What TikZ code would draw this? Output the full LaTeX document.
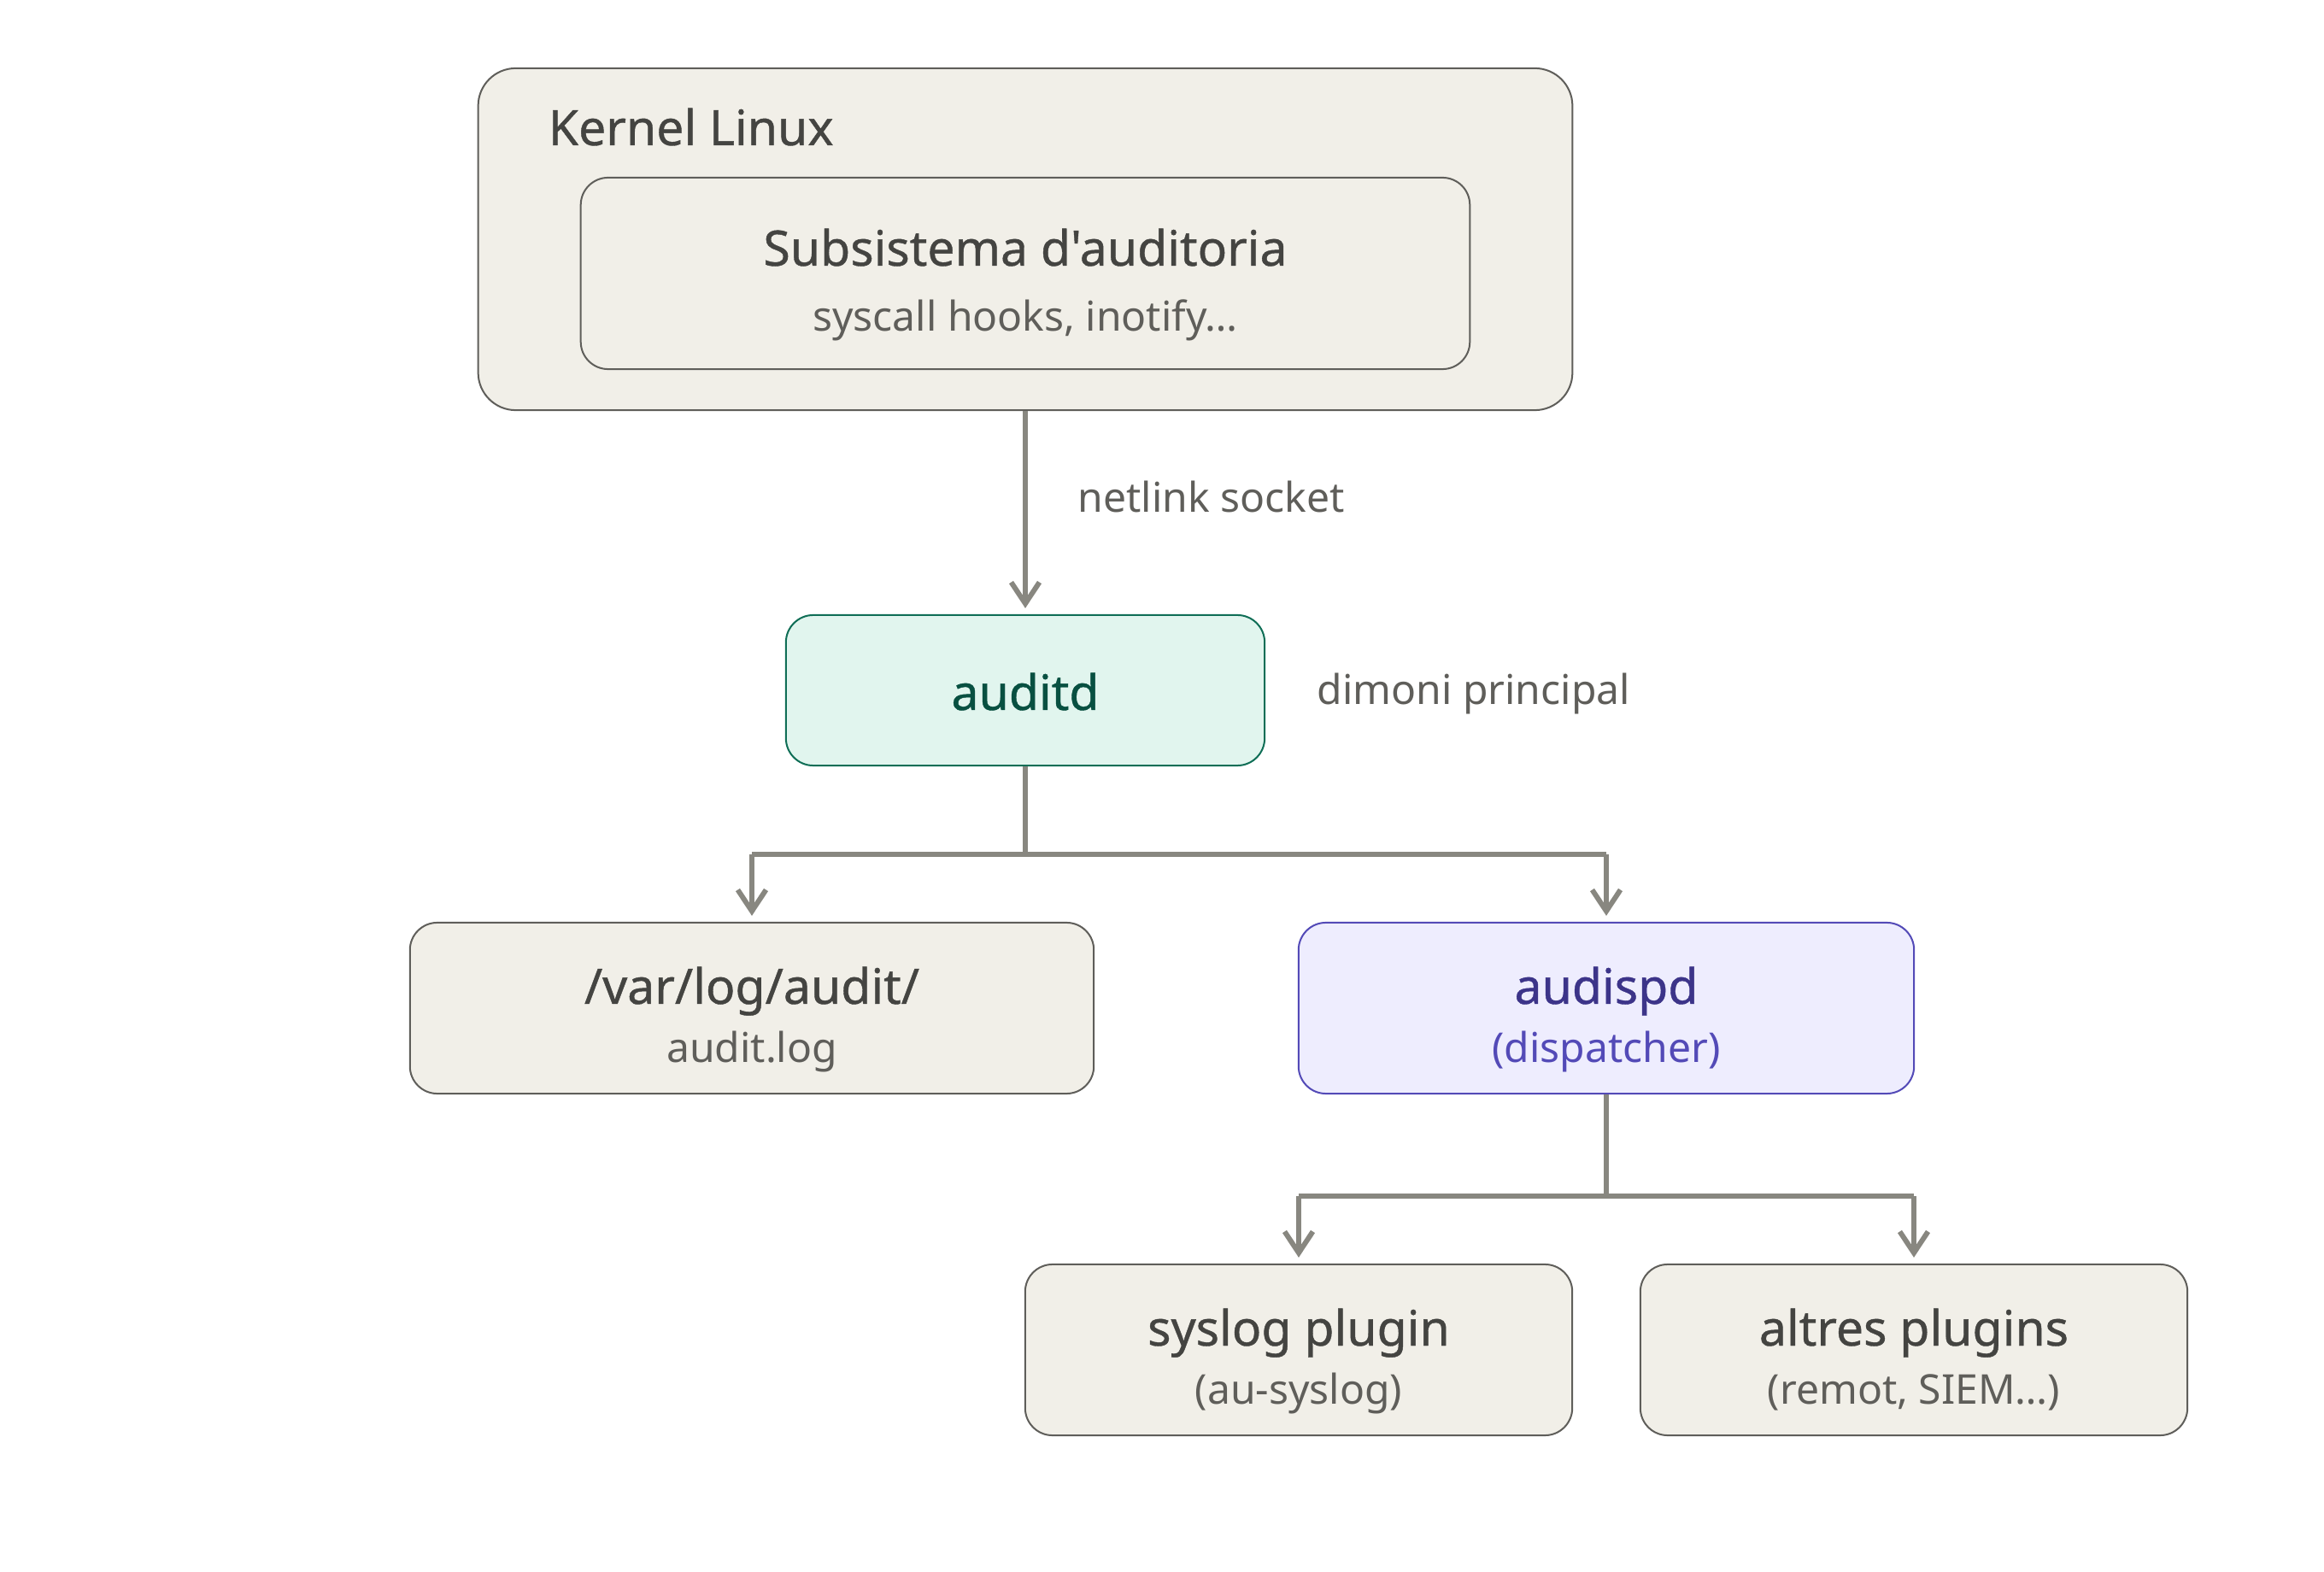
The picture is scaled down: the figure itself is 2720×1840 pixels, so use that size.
\documentclass[tikz,border=0pt]{standalone}
\usepackage{fontspec}
\setmainfont{Noto Sans}
\newfontfamily\medfont[FakeBold=0.7]{Noto Sans}
\usetikzlibrary{arrows.meta}
\definecolor{boxfill}{HTML}{F1EFE8}
\definecolor{boxdraw}{HTML}{5F5E5A}
\definecolor{txtdark}{HTML}{444441}
\definecolor{txtsub}{HTML}{5F5E5A}
\definecolor{tealfill}{HTML}{E1F5EE}
\definecolor{tealdraw}{HTML}{0F6E56}
\definecolor{tealtxt}{HTML}{085041}
\definecolor{purfill}{HTML}{EEEDFE}
\definecolor{purdraw}{HTML}{534AB7}
\definecolor{purtxt}{HTML}{3C3489}
\definecolor{conncol}{HTML}{888780}
\tikzset{
  box/.style={draw=boxdraw, fill=boxfill, line width=0.57pt, rounded corners=0.32cm, inner sep=0pt},
  tealbox/.style={box, draw=tealdraw, fill=tealfill},
  purbox/.style={box, draw=purdraw, fill=purfill},
  ttl/.style={anchor=base, inner sep=0pt, text=txtdark, font=\medfont\fontsize{16.25pt}{19pt}\selectfont},
  sub/.style={anchor=base, inner sep=0pt, text=txtsub, font=\fontsize{13.66pt}{16pt}\selectfont},
  lbl/.style={anchor=base west, inner sep=0pt, text=txtsub, font=\fontsize{13.66pt}{16pt}\selectfont},
  conn/.style={draw=conncol, line width=1.7pt},
  arr/.style={conn, -{Straight Barb[length=7.1pt,width=9.4pt,line width=1.7pt]}, shorten >=2pt},
}
\begin{document}
\begin{tikzpicture}[x=0.01cm,y=-0.01cm]
\useasboundingbox (0,0) rectangle (2720,1840);
% kernel
\node[box, rounded corners=0.44cm, minimum width=12.8cm, minimum height=4cm] (kernel) at (1200,280) {};
\node[ttl, anchor=base west] (kerneltxt) at (641,170) {Kernel Linux};
\node[box, minimum width=10.4cm, minimum height=2.24cm] (subsys) at (1200,320) {};
\node[ttl] (subsystxt) at (1200,311) {Subsistema d'auditoria};
\node[sub] (subsyssub) at (1200,388) {syscall hooks, inotify…};
% auditd
\node[tealbox, minimum width=5.6cm, minimum height=1.76cm] (auditd) at (1200,808) {};
\node[ttl, text=tealtxt] (auditdtxt) at (1200,831) {auditd};
\node[lbl] (dimoni) at (1541,825) {dimoni principal};
\node[lbl] (netlink) at (1261,600) {netlink socket};
% second row
\node[box, minimum width=8cm, minimum height=2cm] (varlog) at (880,1180) {};
\node[ttl] (varlogtxt) at (880,1175) {/var/log/audit/};
\node[sub] (varlogsub) at (880,1243) {audit.log};
\node[purbox, minimum width=7.2cm, minimum height=2cm] (audispd) at (1880,1180) {};
\node[ttl, text=purtxt] (audispdtxt) at (1880,1175) {audispd};
\node[sub, text=purdraw] (audispdsub) at (1880,1243) {(dispatcher)};
% third row
\node[box, minimum width=6.4cm, minimum height=2cm] (syslog) at (1520,1580) {};
\node[ttl] (syslogtxt) at (1520,1575) {syslog plugin};
\node[sub] (syslogsub) at (1520,1643) {(au-syslog)};
\node[box, minimum width=6.4cm, minimum height=2cm] (altres) at (2240,1580) {};
\node[ttl] (altrestxt) at (2240,1575) {altres plugins};
\node[sub] (altressub) at (2240,1643) {(remot, SIEM…)};
% connectors
\draw[arr] (kernel.south) -- (auditd.north);
\coordinate (j1) at (1200,1000);
\coordinate (j1l) at (880,1000);
\coordinate (j1r) at (1880,1000);
\draw[conn] (auditd.south) -- (j1);
\draw[conn] (j1l) -- (j1r);
\draw[arr] (j1l) -- (varlog.north);
\draw[arr] (j1r) -- (audispd.north);
\coordinate (j2) at (1880,1400);
\coordinate (j2l) at (1520,1400);
\coordinate (j2r) at (2240,1400);
\draw[conn] (audispd.south) -- (j2);
\draw[conn] (j2l) -- (j2r);
\draw[arr] (j2l) -- (syslog.north);
\draw[arr] (j2r) -- (altres.north);
\end{tikzpicture}
\end{document}
